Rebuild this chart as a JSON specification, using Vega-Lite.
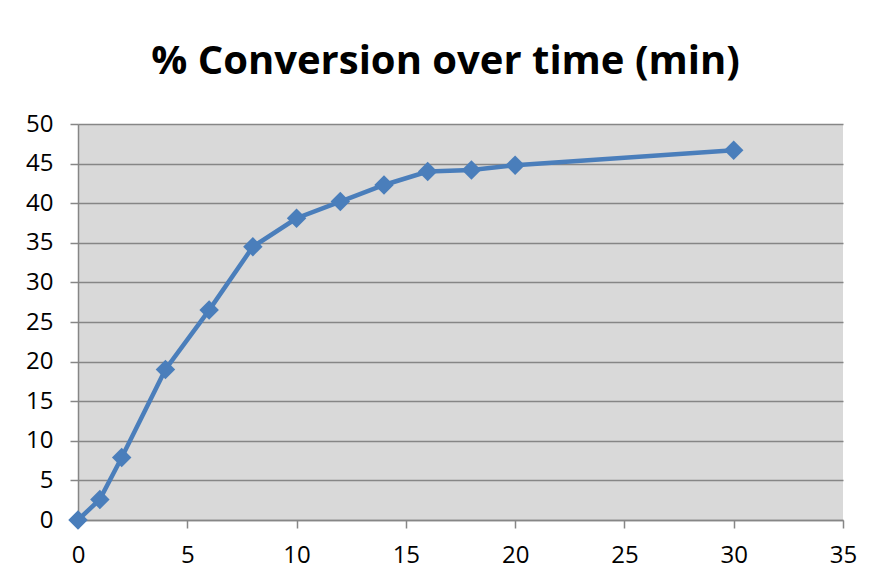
{
  "$schema": "https://vega.github.io/schema/vega-lite/v6.json",
  "width": 765,
  "height": 396,
  "autosize": {"type": "none"},
  "padding": {"left": 78, "top": 124, "right": 37, "bottom": 59},
  "background": "white",
  "title": {
    "text": "% Conversion over time (min)",
    "font": "Open Sans",
    "fontSize": 40,
    "fontWeight": "bold",
    "color": "black",
    "anchor": "middle",
    "frame": "group",
    "offset": 30,
    "dx": -15
  },
  "config": {
    "view": {"fill": "#d9d9d9", "stroke": null},
    "axis": {
      "labelFont": "Open Sans",
      "labelColor": "black",
      "gridColor": "#868686",
      "gridWidth": 1.5,
      "gridOpacity": 1,
      "domainColor": "#868686",
      "domainWidth": 1.5,
      "tickColor": "#868686",
      "tickWidth": 1.5,
      "tickSize": 8,
      "labelFlush": false,
      "labelOverlap": false,
      "title": null
    }
  },
  "data": {
    "values": [
      {"t": 0, "c": 0},
      {"t": 1, "c": 2.6},
      {"t": 2, "c": 7.9},
      {"t": 4, "c": 19.0},
      {"t": 6, "c": 26.5},
      {"t": 8, "c": 34.5},
      {"t": 10, "c": 38.1},
      {"t": 12, "c": 40.2},
      {"t": 14, "c": 42.3},
      {"t": 16, "c": 44.0},
      {"t": 18, "c": 44.2},
      {"t": 20, "c": 44.8},
      {"t": 30, "c": 46.7}
    ]
  },
  "encoding": {
    "x": {
      "field": "t",
      "type": "quantitative",
      "scale": {"domain": [0, 35], "nice": false, "zero": true},
      "axis": {"values": [0, 5, 10, 15, 20, 25, 30, 35], "grid": false, "labelPadding": 15, "labelFontSize": 24, "labelBaseline": "top", "labelFlush": false}
    },
    "y": {
      "field": "c",
      "type": "quantitative",
      "scale": {"domain": [0, 50], "nice": false},
      "axis": {"values": [0, 5, 10, 15, 20, 25, 30, 35, 40, 45, 50], "grid": true, "labelPadding": 17, "labelFontSize": 24, "labelFlush": false}
    }
  },
  "layer": [
    {"mark": {"type": "line", "color": "#4a7ebb", "strokeWidth": 4.5}},
    {"mark": {"type": "point", "shape": "diamond", "filled": true, "size": 380, "color": "#4a7ebb", "opacity": 1}}
  ]
}
